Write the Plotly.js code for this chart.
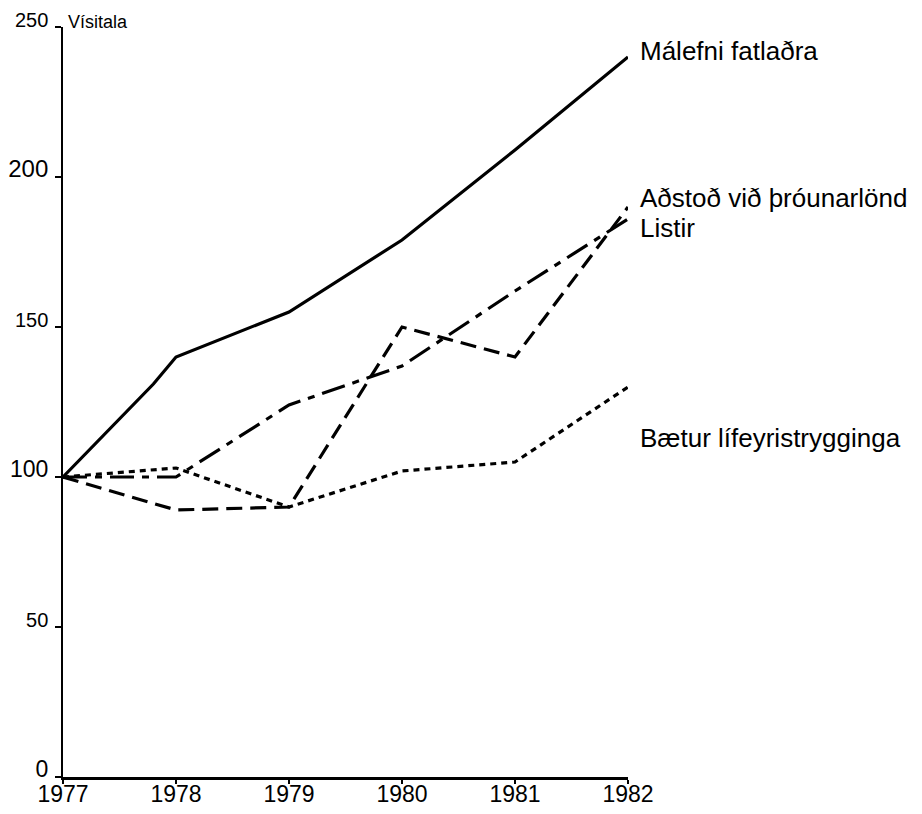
<!DOCTYPE html>
<html>
<head>
<meta charset="utf-8">
<script src="https://cdn.plot.ly/plotly-3.0.1.min.js"></script>
<style>html,body{margin:0;padding:0;background:#fff;}#chart{width:922px;height:814px;}</style>
</head>
<body>
<div id="chart"></div>
<script>
// Data (index, 1977 = 100)
const years = [1977, 1978, 1979, 1980, 1981, 1982];
const malefniYears = [1977, 1977.8, 1978, 1979, 1980, 1981, 1982];
const malefni = [100, 131, 140, 155, 179, 209, 240];
const adstod = [100, 89, 90, 150, 140, 190];
const listir = [100, 100, 124, 137, 162, 186];
const baetur = [100, 103, 90, 102, 105, 130];

const seriesNames = ["Málefni fatlaðra", "Aðstoð við þróunarlönd", "Listir", "Bætur lífeyristrygginga"];
const labelValues = [242, 193, 183, 113];
const yTickVals = [0, 50, 100, 150, 200, 250];
const yTickLabels = ["0", "50", "100", "150", "200", "250"];
const yTickSizes = [23, 20, 23, 20, 24, 20];
const xTickVals = years;
const yAxisTitle = "Vísitala";

const FONT = "Liberation Sans, Arial, Helvetica, sans-serif";

const traces = [
  {x: malefniYears, y: malefni, mode: "lines", line: {color: "#000", width: 3.2, dash: "solid"}},
  {x: years, y: adstod, mode: "lines", line: {color: "#000", width: 3.2, dash: "16px,8px"}},
  {x: years, y: listir, mode: "lines", line: {color: "#000", width: 3.2, dash: "24px,8px,7px,8px"}},
  {x: years, y: baetur, mode: "lines", line: {color: "#000", width: 3.2, dash: "6px,5px"}}
];

const annotations = seriesNames.map((name, i) => ({
  x: 1982, y: labelValues[i], xref: "x", yref: "y",
  text: name, showarrow: false, xanchor: "left", yanchor: "middle", xshift: 10,
  font: {family: FONT, size: 26, color: "#000"}
}));
annotations.push({
  x: 0, y: 250, xref: "paper", yref: "y", text: yAxisTitle, showarrow: false,
  xanchor: "left", yanchor: "middle", xshift: 3, yshift: 5,
  font: {family: FONT, size: 18, color: "#000"}
});

const layout = {
  width: 922, height: 814,
  margin: {l: 63, r: 294, t: 27, b: 37, pad: 0},
  paper_bgcolor: "#fff", plot_bgcolor: "#fff",
  showlegend: false,
  font: {family: FONT, color: "#000"},
  xaxis: {
    range: [1977, 1982], tickvals: xTickVals, ticktext: xTickVals.map(String),
    showgrid: false, zeroline: false, showline: true, linecolor: "#000", linewidth: 2.5,
    ticks: "outside", ticklen: 4, tickwidth: 2, tickcolor: "#000",
    ticklabelstandoff: -9,
    tickfont: {family: FONT, size: 23, color: "#000"}, fixedrange: true
  },
  yaxis: {
    range: [0, 250], tickvals: yTickVals,
    ticktext: yTickLabels.map((t, i) => "<span style='font-size:" + yTickSizes[i] + "px'>" + t + "</span>"),
    showgrid: false, zeroline: false, showline: true, linecolor: "#000", linewidth: 2.5,
    ticks: "outside", ticklen: 6, tickwidth: 2, tickcolor: "#000",
    ticklabelshift: -7, ticklabelstandoff: 2,
    tickfont: {family: FONT, size: 21, color: "#000"}, fixedrange: true
  },
  annotations: annotations
};

Plotly.newPlot("chart", traces, layout, {displayModeBar: false, staticPlot: true});
</script>
</body>
</html>
